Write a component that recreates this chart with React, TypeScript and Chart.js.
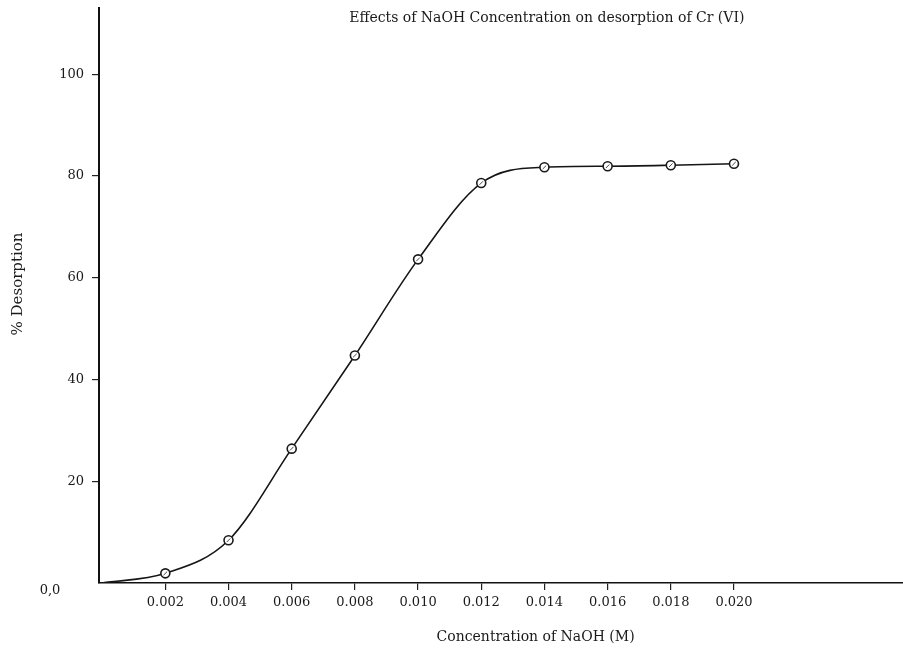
import { useEffect, useRef } from "react";
import { Chart, registerables } from "chart.js";

Chart.register(...registerables);

const concentration = [0, 0.002, 0.004, 0.006, 0.008, 0.010, 0.012, 0.014, 0.016, 0.018, 0.020];
const desorption = [0, 1.9, 8.4, 26.4, 44.7, 63.6, 78.6, 81.7, 81.9, 82.1, 82.4];
const markerRadius = [0, 4.5, 4.5, 4.5, 4.5, 4.5, 4.5, 4.5, 4.5, 4.5, 4.5];
const xTickValues = [0.002, 0.004, 0.006, 0.008, 0.010, 0.012, 0.014, 0.016, 0.018, 0.020];
const xTickLabels = ["0.002", "0.004", "0.006", "0.008", "0.010", "0.012", "0.014", "0.016", "0.018", "0.020"];
const yTickValues = [20, 40, 60, 80, 100];
const yTickLabels = ["20", "40", "60", "80", "100"];

const chartTitle = "Effects of NaOH Concentration on desorption of Cr (VI)";
const xTitle = "Concentration of NaOH (M)";
const yTitle = "% Desorption";
const originLabel = "0,0";

const FONT = "'DejaVu Serif', 'Liberation Serif', serif";

export default function App() {
  const ref = useRef<HTMLCanvasElement | null>(null);

  useEffect(() => {
    document.body.style.margin = "0";
    const canvas = ref.current;
    if (!canvas) return;

    const textPlugin = {
      id: "texts",
      afterDraw(chart: any) {
        const { ctx, chartArea } = chart;
        const xs = chart.scales.x;
        ctx.save();
        ctx.fillStyle = "#1a1a1a";
        ctx.textBaseline = "middle";
        ctx.textAlign = "center";
        ctx.font = `14px ${FONT}`;
        ctx.fillText(chartTitle, chartArea.left + (chartArea.right - chartArea.left) * 0.557, 18);
        ctx.font = `14px ${FONT}`;
        ctx.fillText(xTitle, xs.getPixelForValue(0.01372), 637);
        ctx.font = `13px ${FONT}`;
        ctx.fillText(originLabel, 50, 591);
        ctx.translate(18, 284);
        ctx.rotate(-Math.PI / 2);
        ctx.font = `15px ${FONT}`;
        ctx.fillText(yTitle, 0, 0);
        ctx.restore();
      },
    };

    const chart = new Chart(canvas, {
      type: "line",
      data: {
        datasets: [
          {
            order: 1,
            data: concentration.map((c, i) => ({ x: c, y: desorption[i] })),
            borderColor: "#151515",
            borderWidth: 1.6,
            cubicInterpolationMode: "monotone",
            pointRadius: markerRadius,
            pointBackgroundColor: "#ffffff",
            pointBorderColor: "#1a1a1a",
            pointBorderWidth: 1.6,
            fill: false,
          },
          {
            order: 0,
            data: concentration.slice(1).map((c, i) => ({ x: c, y: desorption[i + 1] })),
            showLine: false,
            pointStyle: "line",
            rotation: -45,
            pointRadius: 2.5,
            pointBorderColor: "#444",
            pointBorderWidth: 1,
          },
        ],
      },
      options: {
        animation: false,
        responsive: true,
        maintainAspectRatio: false,
        layout: { autoPadding: false, padding: { top: 8, right: 0, left: 0, bottom: 0 } },
        plugins: { legend: { display: false }, tooltip: { enabled: false }, title: { display: false } },
        scales: {
          x: {
            type: "linear",
            min: -0.0001,
            max: 0.02535,
            afterBuildTicks: (s: any) => {
              s.ticks = xTickValues.map((v) => ({ value: v }));
            },
            afterFit: (s: any) => {
              s.height = 65;
              s.paddingLeft = 0;
              s.paddingRight = 0;
            },
            ticks: {
              autoSkip: false,
              maxRotation: 0,
              padding: 5,
              color: "#1a1a1a",
              font: { family: FONT, size: 13 },
              callback: (_v: any, i: number) => xTickLabels[i],
            },
            grid: { drawOnChartArea: false, drawTicks: true, tickLength: 7, color: "#222", lineWidth: 1.2 },
            border: { color: "#111", width: 1.6 },
          },
          y: {
            type: "linear",
            min: 0,
            max: 113,
            afterBuildTicks: (s: any) => {
              s.ticks = yTickValues.map((v) => ({ value: v }));
            },
            afterFit: (s: any) => {
              s.width = 99;
              s.paddingTop = 0;
              s.paddingBottom = 0;
            },
            ticks: {
              padding: 8,
              color: "#1a1a1a",
              font: { family: FONT, size: 13 },
              callback: (_v: any, i: number) => yTickLabels[i],
            },
            grid: { drawOnChartArea: false, drawTicks: true, tickLength: 7, color: "#222", lineWidth: 1.2 },
            border: { color: "#111", width: 2 },
          },
        },
      },
      plugins: [textPlugin],
    } as any);

    return () => chart.destroy();
  }, []);

  return (
    <div style={{ position: "absolute", left: 0, top: 0, width: 903, height: 648, background: "#fff" }}>
      <canvas ref={ref} />
    </div>
  );
}
